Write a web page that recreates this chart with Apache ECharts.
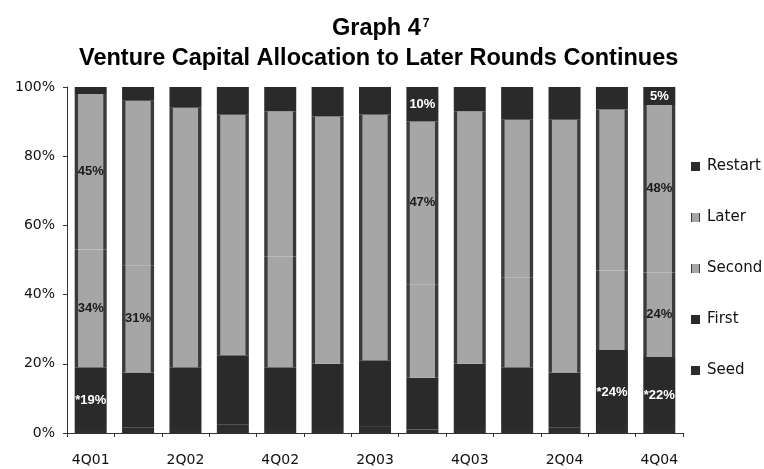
<!DOCTYPE html>
<html><head><meta charset="utf-8">
<script src="https://cdn.jsdelivr.net/npm/echarts@6/dist/echarts.min.js"></script>
<style>html,body{margin:0;padding:0;background:#fff}#c{width:764px;height:469px}</style>
</head><body><div id="c"></div>
<script>
const categories = ['4Q01','1Q02','2Q02','3Q02','4Q02','1Q03','2Q03','3Q03','4Q03','1Q04','2Q04','3Q04','4Q04'];
const seed    = [2, 1.5, 2, 2.5, 2, 2, 2, 1, 2, 2, 1.5, 2, 2];
const first   = [17, 16, 17, 20, 17, 18, 19, 15, 18, 17, 16, 22, 20];
const second  = [34, 31, 33, 31, 32, 30, 29, 27, 28, 26, 25, 23, 24.4];
const later   = [45, 47.5, 42, 38.5, 42, 41.5, 42, 47, 45, 45.5, 48, 46.5, 48.4];
const restart = [2, 4, 6, 8, 7, 8.5, 8, 10, 7, 9.5, 9.5, 6.5, 5.2];
const yTicks = [0, 20, 40, 60, 80, 100];
// indices of bars whose segments carry a value label
const labelFirst = [0, 11, 12];
const labelSecond = [0, 1, 12];
const labelLater = [0, 7, 12];
const labelRestart = [7, 12];

const chart = echarts.init(document.getElementById('c'));
const DARK = '#2a2a2a';
const lightGrad = () => new echarts.graphic.LinearGradient(0, 0, 1, 0, [
  {offset: 0, color: '#3a3a3a'}, {offset: 0.09, color: '#3a3a3a'},
  {offset: 0.12, color: '#a6a6a6'}, {offset: 0.88, color: '#a6a6a6'},
  {offset: 0.91, color: '#3a3a3a'}, {offset: 1, color: '#3a3a3a'}]);
const lblBase = {fontFamily: 'Liberation Sans', fontWeight: 'bold', fontSize: 13};

function mk(values, labelIdx, fmt, color, offset) {
  return values.map((v, i) => labelIdx.includes(i)
    ? {value: v, label: Object.assign({show: true, position: 'inside', color: color,
        offset: offset || [0, 0], formatter: () => fmt(i)}, lblBase)}
    : v);
}

const option = {
  animation: false,
  backgroundColor: '#fff',
  title: [
    {text: 'Graph 4{s|7}', left: 327, top: 12,
     textStyle: {fontFamily: 'Liberation Sans', fontWeight: 'bold', fontSize: 23.5, color: '#000',
       rich: {s: {fontFamily: 'Liberation Sans', fontSize: 12, color: '#000', padding: [0, 0, 11, 2]}}}},
    {text: 'Venture Capital Allocation to Later Rounds Continues', left: 74, top: 42,
     textStyle: {fontFamily: 'Liberation Sans', fontWeight: 'bold', fontSize: 23.5, color: '#000'}}
  ],
  legend: {
    orient: 'vertical', left: 686, top: 154, itemGap: 36, itemWidth: 9, itemHeight: 9,
    icon: 'rect',
    data: ['Restart', 'Later', 'Second', 'First', 'Seed'],
    textStyle: {fontFamily: 'DejaVu Sans', fontSize: 15, color: '#111', padding: [0, 0, 0, 2]}
  },
  grid: {left: 67, right: 81, top: 87, bottom: 36},
  xAxis: {
    type: 'category', data: categories,
    axisLine: {lineStyle: {color: '#333'}},
    axisTick: {show: true, interval: 0, length: 4, lineStyle: {color: '#333'}},
    axisLabel: {interval: 1, fontFamily: 'DejaVu Sans', fontSize: 14, color: '#111', margin: 20}
  },
  yAxis: {
    type: 'value', min: yTicks[0], max: yTicks[yTicks.length - 1], interval: 20,
    axisLine: {show: true, lineStyle: {color: '#333'}},
    axisTick: {show: true, length: 4, lineStyle: {color: '#333'}},
    splitLine: {show: false},
    axisLabel: {formatter: '{value}%', fontFamily: 'DejaVu Sans', fontSize: 14, color: '#111', margin: 12}
  },
  series: [
    {name: 'Seed', type: 'bar', stack: 'a', barWidth: 32, itemStyle: {color: '#2d2d2d'}, data: seed},
    {name: 'First', type: 'bar', stack: 'a', itemStyle: {color: DARK},
     data: mk(first, labelFirst, i => '*' + Math.round(seed[i] + first[i]) + '%', '#fff', [0, 4])},
    {name: 'Second', type: 'bar', stack: 'a', itemStyle: {color: lightGrad()},
     data: mk(second, labelSecond, i => Math.round(second[i]) + '%', '#1a1a1a')},
    {name: 'Later', type: 'bar', stack: 'a', itemStyle: {color: lightGrad()},
     data: mk(later, labelLater, i => Math.round(later[i]) + '%', '#1a1a1a')},
    {name: 'Restart', type: 'bar', stack: 'a', itemStyle: {color: DARK},
     data: mk(restart, labelRestart, i => Math.round(restart[i]) + '%', '#fff')}
  ]
};
chart.setOption(option);
</script>
</body></html>
